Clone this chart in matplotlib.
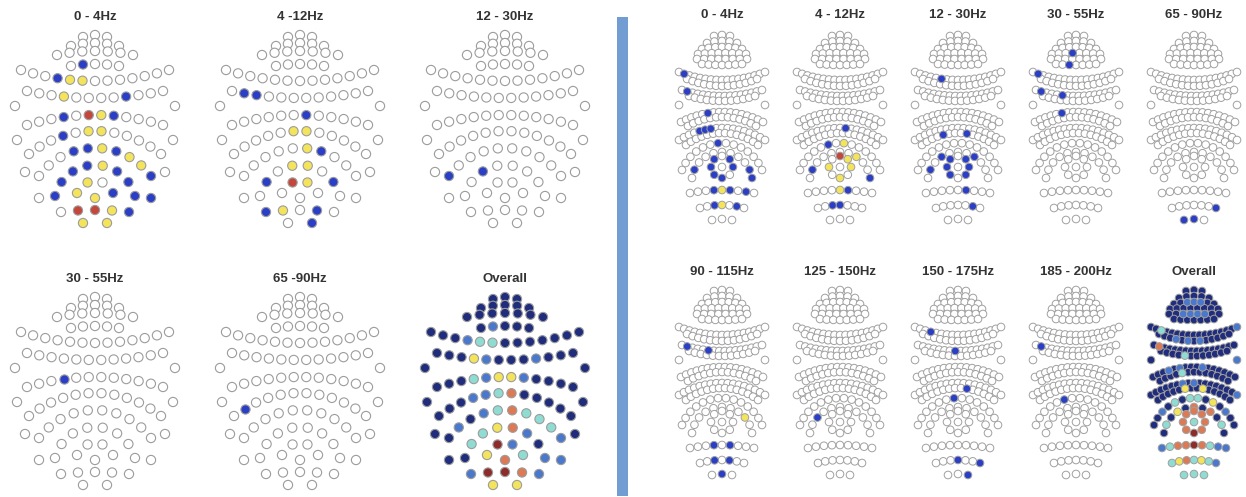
import numpy as np
import matplotlib
matplotlib.use('Agg')
import matplotlib.pyplot as plt
from matplotlib.patches import Rectangle

plt.rcParams['font.family'] = ['Liberation Sans', 'DejaVu Sans']

# fill colours for the significance codes
palette = {'W': '#ffffff', 'B': '#2b3fc6', 'Y': '#f3e45c', 'R': '#c4473b',
           'N': '#202d7c', 'M': '#4a78cc', 'C': '#8fdcd2', 'O': '#dc7a55',
           'D': '#8e2c2c'}

# scalp EEG montage: (row, y at middle, half width, y at ends, sensors)
eeg_rows = [
    ('r1', 37, 12, 39, 3), ('r2', 45, 24, 48, 5), ('r3', 53, 38, 57, 7),
    ('r3b', 66, 24, 68, 5), ('r4', 83, 74, 72, 13), ('r5', 100, 68, 93, 12),
    ('i1', 108, 80, 108, 2), ('r6', 117, 68, 127, 12), ('i2', 142, 78, 142, 2),
    ('r7', 133, 66, 156, 12), ('i3', 174, 70, 174, 2), ('ab', 150, 56, 178, 10),
    ('ab2', 200, 56, 200, 2), ('ac', 167, 40, 198, 8), ('ad', 183, 18, 195, 4),
    ('c1', 200, 0, 200, 1), ('rf', 212, 34, 214, 5), ('rg', 225, 12, 225, 2),
]

# MEG montage, denser and narrower
meg_rows = [
    ('d1', 35, 8, 36, 3), ('d2', 41, 15, 43, 5), ('d3', 47, 20, 49, 7),
    ('d4', 53, 24, 54, 8), ('d5', 59, 25, 59, 8), ('d6', 65, 20, 64, 7),
    ('a1o', 80, 43, 72, 17), ('a1i', 86, 35, 79, 13), ('a2o', 96, 40, 90, 16),
    ('a2i', 101, 33, 96, 12), ('iso', 105, 43, 105, 2), ('a3o', 112, 41, 122, 16),
    ('a3i', 117, 34, 126, 13), ('a4o', 128, 43, 140, 17), ('a4i', 133, 36, 145, 14),
    ('b1', 143, 40, 170, 14), ('b2', 152, 30, 178, 11), ('c', 190, 32, 193, 9),
    ('d', 205, 22, 208, 7), ('e', 219, 10, 220, 3),
]
meg_ring = ('ring', 167, 11, 8)

# EEG panels: title, background code, significant sensors
eeg_titles = ['0 - 4Hz', '4 -12Hz', '12 - 30Hz', '30 - 55Hz', '65 -90Hz', 'Overall']
eeg_base = ['W', 'W', 'W', 'W', 'W', 'N']
eeg_sig = [
    [('r3b', 1, 'B'), ('r4', 3, 'B'), ('r4', 4, 'Y'), ('r4', 5, 'Y'), ('r5', 3, 'Y'),
     ('r5', 8, 'B'), ('r6', 3, 'B'), ('r6', 5, 'R'), ('r6', 6, 'Y'), ('r6', 7, 'B'),
     ('r7', 3, 'B'), ('r7', 5, 'Y'), ('r7', 6, 'Y'), ('ab', 3, 'B'), ('ab', 4, 'B'),
     ('ab', 5, 'Y'), ('ab', 6, 'B'), ('ab', 7, 'Y'), ('ab', 8, 'Y'), ('ab', 9, 'B'),
     ('ab2', 1, 'B'), ('ac', 0, 'B'), ('ac', 1, 'B'), ('ac', 2, 'B'), ('ac', 3, 'B'),
     ('ac', 4, 'Y'), ('ac', 5, 'B'), ('ac', 6, 'B'), ('ac', 7, 'B'), ('ad', 0, 'Y'),
     ('ad', 1, 'Y'), ('ad', 3, 'B'), ('c1', 0, 'Y'), ('rf', 1, 'R'), ('rf', 2, 'R'),
     ('rf', 3, 'Y'), ('rf', 4, 'B'), ('rg', 0, 'Y'), ('rg', 1, 'Y')],
    [('r5', 1, 'B'), ('r5', 2, 'B'), ('r6', 6, 'B'), ('r7', 5, 'Y'), ('r7', 6, 'Y'),
     ('ab', 5, 'Y'), ('ab', 6, 'B'), ('ac', 1, 'B'), ('ac', 3, 'Y'), ('ac', 4, 'Y'),
     ('ac', 6, 'B'), ('ad', 1, 'R'), ('ad', 2, 'Y'), ('rf', 0, 'B'), ('rf', 1, 'Y'),
     ('rf', 3, 'B'), ('rg', 1, 'B')],
    [('ab', 0, 'B'), ('ac', 2, 'B')],
    [('r6', 3, 'B')],
    [('r7', 1, 'B')],
    [('r3b', 1, 'M'), ('r4', 3, 'M'), ('r4', 4, 'C'), ('r4', 5, 'C'), ('r5', 3, 'Y'),
     ('r5', 4, 'M'), ('r5', 8, 'M'), ('r6', 3, 'C'), ('r6', 4, 'M'), ('r6', 5, 'Y'),
     ('r6', 6, 'Y'), ('r6', 7, 'M'), ('r7', 3, 'M'), ('r7', 4, 'M'), ('r7', 5, 'C'),
     ('r7', 6, 'O'), ('ab', 1, 'M'), ('ab', 3, 'M'), ('ab', 4, 'C'), ('ab', 5, 'O'),
     ('ab', 6, 'C'), ('ab', 7, 'C'), ('ab', 8, 'C'), ('ab', 9, 'M'), ('ab2', 1, 'M'),
     ('ac', 1, 'C'), ('ac', 2, 'C'), ('ac', 3, 'Y'), ('ac', 4, 'O'), ('ac', 5, 'M'),
     ('ac', 7, 'M'), ('ad', 0, 'Y'), ('ad', 1, 'D'), ('ad', 2, 'M'), ('ad', 3, 'C'),
     ('c1', 0, 'O'), ('rf', 0, 'M'), ('rf', 1, 'D'), ('rf', 2, 'D'), ('rf', 3, 'O'),
     ('rf', 4, 'M'), ('rg', 0, 'Y'), ('rg', 1, 'Y')],
]

# MEG panels
meg_titles = ['0 - 4Hz', '4 - 12Hz', '12 - 30Hz', '30 - 55Hz', '65 - 90Hz',
              '90 - 115Hz', '125 - 150Hz', '150 - 175Hz', '185 - 200Hz', 'Overall']
meg_base = ['W'] * 9 + ['N']
meg_sig = [
    [('a1o', 1, 'B'), ('a2o', 1, 'B'), ('a3o', 5, 'B'), ('a4o', 4, 'B'), ('a4o', 5, 'B'),
     ('a4o', 6, 'B'), ('b1', 6, 'B'), ('b2', 1, 'B'), ('b2', 9, 'B'), ('ring', 1, 'B'),
     ('ring', 2, 'B'), ('ring', 4, 'B'), ('ring', 5, 'B'), ('ring', 6, 'B'), ('ring', 7, 'B'),
     ('b2', 10, 'B'), ('c', 3, 'B'), ('c', 4, 'Y'), ('c', 5, 'B'), ('c', 7, 'B'),
     ('d', 2, 'B'), ('d', 3, 'Y'), ('d', 5, 'B')],
    [('a4o', 9, 'B'), ('b1', 7, 'Y'), ('b1', 5, 'B'), ('ring', 0, 'R'), ('ring', 1, 'Y'),
     ('b2', 7, 'Y'), ('b2', 1, 'B'), ('ring', 6, 'Y'), ('ring', 2, 'Y'), ('ring', 4, 'Y'),
     ('b2', 10, 'B'), ('c', 4, 'Y'), ('c', 5, 'B'), ('d', 2, 'B'), ('d', 3, 'B')],
    [('a1o', 5, 'B'), ('a4i', 4, 'B'), ('a4i', 8, 'B'), ('b2', 3, 'B'), ('b2', 7, 'B'),
     ('ring', 7, 'B'), ('ring', 1, 'B'), ('ring', 6, 'B'), ('ring', 2, 'B'), ('ring', 5, 'B'),
     ('ring', 3, 'B'), ('b2', 1, 'B'), ('c', 5, 'B'), ('d', 5, 'B')],
    [('d4', 3, 'B'), ('d6', 2, 'B'), ('a1o', 1, 'B'), ('a2o', 1, 'B'), ('a2o', 5, 'B'),
     ('a3o', 5, 'B')],
    [('d', 6, 'B'), ('e', 0, 'B'), ('e', 1, 'B')],
    [('a2o', 1, 'B'), ('a2o', 5, 'B'), ('b2', 8, 'Y'), ('c', 3, 'B'), ('c', 5, 'B'),
     ('d', 2, 'B'), ('d', 4, 'B'), ('e', 1, 'B')],
    [('b2', 2, 'B')],
    [('a1o', 3, 'B'), ('a2o', 7, 'B'), ('a4i', 8, 'B'), ('b1', 6, 'B'), ('d', 3, 'B'),
     ('d', 6, 'B'), ('e', 2, 'B')],
    [('a2o', 1, 'B'), ('b1', 5, 'B')],
    [('d3', 2, 'M'), ('d3', 3, 'M'), ('d3', 4, 'M'), ('d5', 2, 'M'), ('d5', 3, 'M'),
     ('d5', 4, 'M'), ('d5', 5, 'M'), ('a1o', 2, 'C'), ('a1o', 16, 'M'), ('a1i', 3, 'M'),
     ('a1i', 5, 'M'), ('a1i', 7, 'M'), ('a2o', 1, 'O'), ('a2i', 4, 'C'), ('iso', 1, 'M'),
     ('a3o', 3, 'M'), ('a3o', 5, 'M'), ('a3o', 9, 'M'), ('a3i', 4, 'C'), ('a4o', 6, 'M'),
     ('a4o', 8, 'M'), ('a4o', 16, 'M'), ('a4i', 5, 'Y'), ('a4i', 8, 'Y'), ('b1', 2, 'M'),
     ('b1', 4, 'C'), ('b1', 6, 'C'), ('b1', 7, 'C'), ('b1', 9, 'Y'), ('b1', 11, 'M'),
     ('b2', 1, 'C'), ('b2', 3, 'Y'), ('b2', 5, 'O'), ('b2', 7, 'O'), ('b2', 9, 'C'),
     ('ring', 0, 'O'), ('ring', 1, 'O'), ('ring', 2, 'O'), ('ring', 3, 'O'),
     ('ring', 4, 'D'), ('ring', 5, 'O'), ('ring', 6, 'O'), ('ring', 7, 'O'),
     ('centre', 0, 'C'), ('c', 0, 'M'), ('c', 1, 'C'), ('c', 2, 'O'), ('c', 3, 'O'),
     ('c', 4, 'D'), ('c', 5, 'O'), ('c', 6, 'C'), ('c', 7, 'M'), ('c', 8, 'M'),
     ('d', 0, 'C'), ('d', 1, 'Y'), ('d', 2, 'O'), ('d', 3, 'C'), ('d', 4, 'Y'),
     ('d', 5, 'C'), ('d', 6, 'M'), ('e', 0, 'C'), ('e', 1, 'C'), ('e', 2, 'C')],
]


def arc_row(y_mid, half_w, y_end, n):
    # sensors evenly spaced along a circular arc through the middle and both ends
    if n == 1:
        return np.array([0.0]), np.array([float(y_mid)])
    drop = y_end - y_mid
    if abs(drop) < 1e-9:
        return np.linspace(-half_w, half_w, n), np.full(n, float(y_mid))
    r = (half_w ** 2 + drop ** 2) / (2 * abs(drop))
    th = np.arcsin(half_w / r)
    a = np.linspace(-th, th, n)
    return r * np.sin(a), y_mid + np.sign(drop) * r * (1 - np.cos(a))


def build_layout(rows, ring=None):
    pos = {}
    for name, y_mid, half_w, y_end, n in rows:
        pos[name] = arc_row(y_mid, half_w, y_end, n)
    if ring is not None:
        name, yc, rad, n = ring
        a = np.arange(n) * 2 * np.pi / n
        pos[name] = (rad * np.sin(a), yc - rad * np.cos(a))
        pos['centre'] = (np.array([0.0]), np.array([float(yc)]))
    return pos


def draw_panel(ax, layout, cx, dy, base, sig, size, lw, edge):
    lookup = {}
    for row, k, code in sig:
        lookup[(row, k)] = code
    xs, ys, fills, z = [], [], [], []
    for name, (px, py) in layout.items():
        for k in range(len(px)):
            code = lookup.get((name, k), base)
            xs.append(cx + px[k])
            ys.append(dy + py[k])
            fills.append(palette[code])
            z.append(0 if code == base else 1)
    xs, ys, z = np.array(xs), np.array(ys), np.array(z)
    fills = np.array(fills)
    for level in (0, 1):
        m = z == level
        ax.scatter(xs[m], ys[m], s=size, c=list(fills[m]), edgecolors=edge,
                   linewidths=lw, zorder=2 + level)


fig = plt.figure(figsize=(12.46, 4.97), dpi=100)
ax = fig.add_axes([0, 0, 1, 1])
ax.set_xlim(0, 1246)
ax.set_ylim(497, 0)
ax.axis('off')

eeg_layout = build_layout(eeg_rows)
meg_layout = build_layout(meg_rows, meg_ring)

eeg_cx = [95, 300, 505]
for i, title in enumerate(eeg_titles):
    cx = eeg_cx[i % 3]
    dy = -2 if i < 3 else 260
    draw_panel(ax, eeg_layout, cx, dy, eeg_base[i], eeg_sig[i], 44, 0.8, '#9c9c9c')
    ax.text(cx, 19 + dy, title, ha='center', va='center', fontsize=9.5,
            fontweight='bold', color='#333333')

meg_cx = [722, 840, 958, 1076, 1194]
for i, title in enumerate(meg_titles):
    cx = meg_cx[i % 5]
    dy = 0 if i < 5 else 255
    draw_panel(ax, meg_layout, cx, dy, meg_base[i], meg_sig[i], 30, 0.7, '#a0a0a0')
    ax.text(cx, 15 + dy + (2 if i >= 5 else 0), title, ha='center', va='center',
            fontsize=9.5, fontweight='bold', color='#333333')

# divider between the EEG and MEG halves
ax.add_patch(Rectangle((617, 17), 11, 479, facecolor='#729dd3', edgecolor='none'))

fig.savefig('out.png', dpi=100)
